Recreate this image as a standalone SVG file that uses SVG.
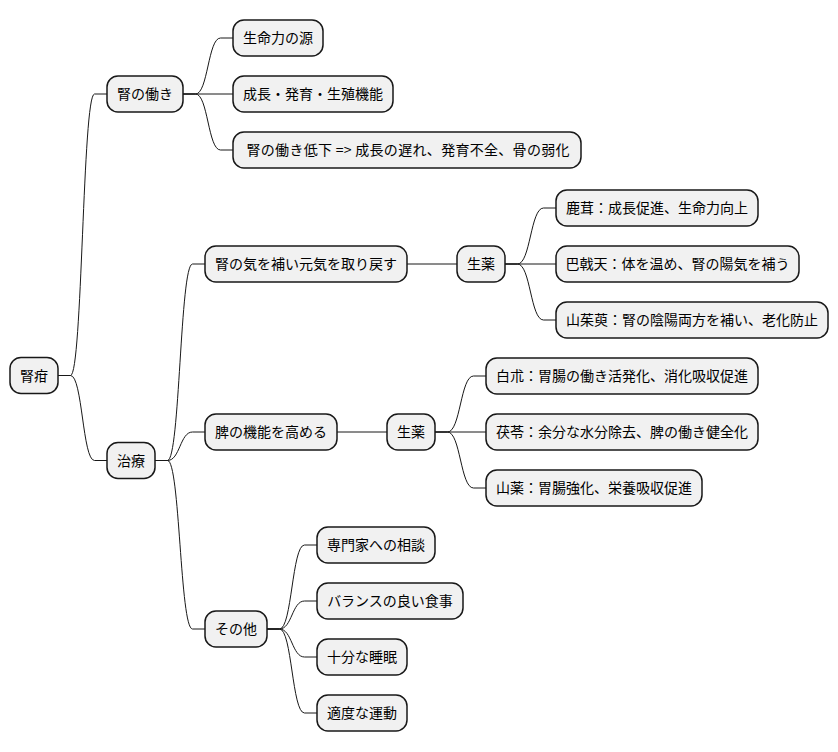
<svg xmlns="http://www.w3.org/2000/svg" width="838" height="752" viewBox="0 0 838 752">
<style>
.n rect{fill:#F1F1F1;stroke:#181818;stroke-width:1.5}
.n text{font-family:"Noto Sans CJK JP","Noto Sans",sans-serif;font-size:14px;fill:#000;text-anchor:middle}
.c path{fill:none;stroke:#181818;stroke-width:1}
</style>
<rect width="838" height="752" fill="#FFFFFF"/>
<g class="c" id="connectors">
<path d="M58,375.5 L70.5,375.5 C82.5,375.5 82.5,94 94.5,94 L107,94"/>
<path d="M58,375.5 L70.5,375.5 C82.5,375.5 82.5,460.5 94.5,460.5 L107,460.5"/>
<path d="M183,94 L195.5,94 C208,94 208,38 220.5,38 L233,38"/>
<path d="M183,94 L233,94"/>
<path d="M183,94 L195.5,94 C208,94 208,150 220.5,150 L233,150"/>
<path d="M155,460.5 L167.5,460.5 C180,460.5 180,264 192.5,264 L205,264"/>
<path d="M155,460.5 L167.5,460.5 C180,460.5 180,432 192.5,432 L205,432"/>
<path d="M155,460.5 L167.5,460.5 C180,460.5 180,629 192.5,629 L205,629"/>
<path d="M407,264 L457,264"/>
<path d="M505,264 L517.5,264 C530.5,264 530.5,208 543.5,208 L556,208"/>
<path d="M505,264 L556,264"/>
<path d="M505,264 L517.5,264 C530.5,264 530.5,320 543.5,320 L556,320"/>
<path d="M337,432 L387,432"/>
<path d="M435,432 L447.5,432 C460.5,432 460.5,376 473.5,376 L486,376"/>
<path d="M435,432 L486,432"/>
<path d="M435,432 L447.5,432 C460.5,432 460.5,488 473.5,488 L486,488"/>
<path d="M267,629 L279.5,629 C292,629 292,545 304.5,545 L317,545"/>
<path d="M267,629 L279.5,629 C292,629 292,601 304.5,601 L317,601"/>
<path d="M267,629 L279.5,629 C292,629 292,657 304.5,657 L317,657"/>
<path d="M267,629 L279.5,629 C292,629 292,713 304.5,713 L317,713"/>
</g>
<g class="n" id="n-root"><rect x="10" y="357.5" width="48" height="36" rx="11"/><text x="34" y="380.5">腎疳</text></g>
<g class="n" id="n-hataraki"><rect x="107" y="76" width="76" height="36" rx="11"/><text x="145" y="99">腎の働き</text></g>
<g class="n" id="n-h1"><rect x="233" y="20" width="90" height="36" rx="11"/><text x="278" y="43">生命力の源</text></g>
<g class="n" id="n-h2"><rect x="233" y="76" width="160" height="36" rx="11"/><text x="313" y="99">成長・発育・生殖機能</text></g>
<g class="n" id="n-h3"><rect x="233" y="132" width="348" height="36" rx="11"/><text x="408" y="155" textLength="323" lengthAdjust="spacing">腎の働き低下 =&gt; 成長の遅れ、発育不全、骨の弱化</text></g>
<g class="n" id="n-chiryo"><rect x="107" y="442.5" width="48" height="36" rx="11"/><text x="131" y="465.5">治療</text></g>
<g class="n" id="n-jinki"><rect x="205" y="246" width="202" height="36" rx="11"/><text x="306" y="269">腎の気を補い元気を取り戻す</text></g>
<g class="n" id="n-shoyaku1"><rect x="457" y="246" width="48" height="36" rx="11"/><text x="481" y="269">生薬</text></g>
<g class="n" id="n-s1a"><rect x="556" y="190" width="202" height="36" rx="11"/><text x="657" y="213">鹿茸：成長促進、生命力向上</text></g>
<g class="n" id="n-s1b"><rect x="556" y="246" width="243" height="36" rx="11"/><text x="677.5" y="269">巴戟天：体を温め、腎の陽気を補う</text></g>
<g class="n" id="n-s1c"><rect x="556" y="302" width="272" height="36" rx="11"/><text x="692" y="325">山茱萸：腎の陰陽両方を補い、老化防止</text></g>
<g class="n" id="n-hi"><rect x="205" y="414" width="132" height="36" rx="11"/><text x="271" y="437">脾の機能を高める</text></g>
<g class="n" id="n-shoyaku2"><rect x="387" y="414" width="48" height="36" rx="11"/><text x="411" y="437">生薬</text></g>
<g class="n" id="n-s2a"><rect x="486" y="358" width="272" height="36" rx="11"/><text x="622" y="381">白朮：胃腸の働き活発化、消化吸収促進</text></g>
<g class="n" id="n-s2b"><rect x="486" y="414" width="272" height="36" rx="11"/><text x="622" y="437">茯苓：余分な水分除去、脾の働き健全化</text></g>
<g class="n" id="n-s2c"><rect x="486" y="470" width="216" height="36" rx="11"/><text x="594" y="493">山薬：胃腸強化、栄養吸収促進</text></g>
<g class="n" id="n-sonota"><rect x="205" y="611" width="62" height="36" rx="11"/><text x="236" y="634">その他</text></g>
<g class="n" id="n-o1"><rect x="317" y="527" width="118" height="36" rx="11"/><text x="376" y="550">専門家への相談</text></g>
<g class="n" id="n-o2"><rect x="317" y="583" width="146" height="36" rx="11"/><text x="390" y="606">バランスの良い食事</text></g>
<g class="n" id="n-o3"><rect x="317" y="639" width="90" height="36" rx="11"/><text x="362" y="662">十分な睡眠</text></g>
<g class="n" id="n-o4"><rect x="317" y="695" width="90" height="36" rx="11"/><text x="362" y="718">適度な運動</text></g>
</svg>
